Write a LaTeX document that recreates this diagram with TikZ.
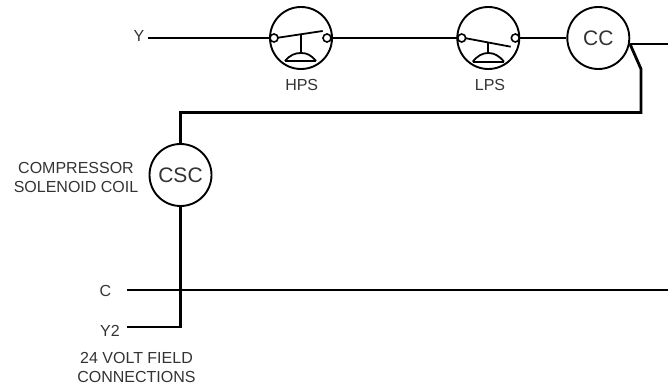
\documentclass[tikz,border=0pt]{standalone}
\usepackage{fontspec}
\setmainfont{Liberation Sans}
\definecolor{lbltext}{HTML}{333333}
\tikzset{
  wire/.style={black,line width=2.8pt},
  thinwire/.style={black,line width=2.3pt},
  symb/.style={black,line width=1.8pt},
  coil/.style={draw,circle,line width=1.9pt,inner sep=0pt,minimum size=62pt,text=lbltext,font=\fontsize{21}{23}\selectfont},
  contact/.style={draw,circle,fill=white,line width=1.6pt,inner sep=0pt,minimum size=8pt},
  lbl/.style={text=lbltext,align=center,inner sep=0pt,font=\fontsize{16}{19}\selectfont}
}
\begin{document}
\begin{tikzpicture}[x=1pt,y=-1pt]
\useasboundingbox (0,0) rectangle (668,387);

% switches and coils
\node [coil] (hps) at (301,38) {};
\node [coil] (lps) at (488.3,38) {};
\node [coil] (cc) at (598.3,38) {CC};
\node [coil] (csc) at (180.5,175) {CSC};

% free ends of the wires
\coordinate (yend) at (148,38);
\coordinate (cend) at (127,290);
\coordinate (cright) at (668,290);
\coordinate (ytwoend) at (127,327);
\coordinate (ytwocorner) at (180.5,327);
\coordinate (ccout) at (630,44);
\coordinate (ccright) at (668,44);
\coordinate (bendtop) at (641,69);
\coordinate (bendlow) at (641,112.5);
\coordinate (csctop) at (180.5,112.5);

\node [contact] (hpsl) at (274,38) {};
\node [contact] (hpsr) at (327,38) {};
\node [contact] (lpsl) at (461.7,38) {};
\node [contact] (lpsr) at (515.3,38) {};

\draw [wire] (yend) -- (hpsl);
\draw [thinwire] (hpsr) -- (lpsl);
\draw [thinwire] (lpsr) -- (cc);
\draw [wire] (ccout) -- (ccright);
\draw [wire,line join=miter] (ccout) -- (bendtop) -- (bendlow) -- (csctop) -- (csc);
\draw [wire] (csc) -- (ytwocorner) -- (ytwoend);
\draw [wire] (cend) -- (cright);

% HPS lever and dome
\draw [symb] (278,37.7) -- (322.7,31);
\draw [symb] (301,34.5) -- (301,53);
\draw [symb] (285,61) -- (316,61);
\draw [symb] (285,61) .. controls (290,55) and (295,53) .. (301,53) .. controls (307,53) and (311,55) .. (316,61);

% LPS lever and dome
\draw [symb] (466,38.3) -- (510.7,46.7);
\draw [symb] (488.3,42.5) -- (488.3,53);
\draw [symb] (472.7,61.7) -- (504,61.7);
\draw [symb] (472.7,61.7) .. controls (477.7,55.7) and (482.3,53) .. (488.3,53) .. controls (494.3,53) and (499,55.7) .. (504,61.7);

% labels
\node [lbl] (ylbl) at (139,36) {Y};
\node [lbl] (hpslbl) at (301.7,85) {HPS};
\node [lbl] (lpslbl) at (490,85) {LPS};
\node [lbl] (csclbl) at (76,177.5) {COMPRESSOR\\SOLENOID COIL};
\node [lbl] (clbl) at (105.5,291) {C};
\node [lbl] (ytwolbl) at (110,331) {Y2};
\node [lbl] (fieldlbl) at (136.5,367.5) {24 VOLT FIELD\\CONNECTIONS};
\end{tikzpicture}
\end{document}
